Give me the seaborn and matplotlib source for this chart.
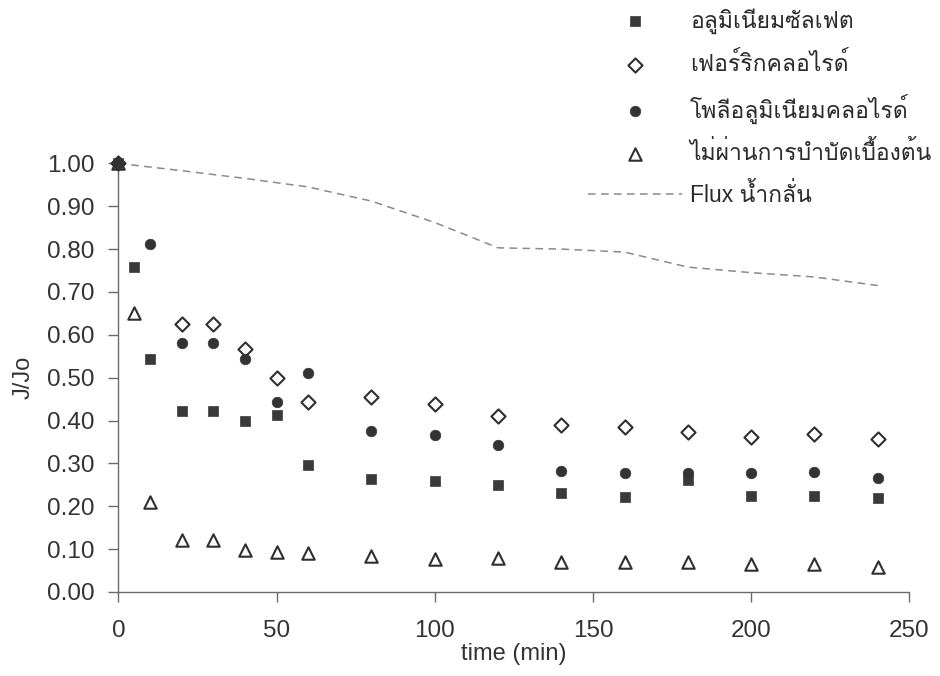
import numpy as np
import pandas as pd
import matplotlib
matplotlib.use("Agg")
import matplotlib.pyplot as plt
import seaborn as sns
from matplotlib import font_manager
from matplotlib.ft2font import FT2Font

# ---------------- data ----------------
time_alum = [0, 5, 10, 20, 30, 40, 50, 60, 80, 100, 120, 140, 160, 180, 200, 220, 240]
alum_sulfate = [1.00, 0.758, 0.543, 0.423, 0.423, 0.400, 0.413, 0.296, 0.263, 0.260,
                0.249, 0.231, 0.222, 0.261, 0.224, 0.224, 0.220]

time_ferric = [0, 20, 30, 40, 50, 60, 80, 100, 120, 140, 160, 180, 200, 220, 240]
ferric_chloride = [1.00, 0.625, 0.625, 0.568, 0.500, 0.443, 0.454, 0.439, 0.411, 0.390,
                   0.386, 0.373, 0.362, 0.368, 0.357]

time_pac = [0, 10, 20, 30, 40, 50, 60, 80, 100, 120, 140, 160, 180, 200, 220, 240]
pac = [1.00, 0.812, 0.580, 0.580, 0.543, 0.443, 0.510, 0.376, 0.366, 0.343, 0.283,
       0.277, 0.278, 0.277, 0.281, 0.267]

time_raw = [0, 5, 10, 20, 30, 40, 50, 60, 80, 100, 120, 140, 160, 180, 200, 220, 240]
untreated = [1.00, 0.650, 0.210, 0.122, 0.122, 0.097, 0.094, 0.090, 0.083, 0.078,
             0.080, 0.070, 0.070, 0.070, 0.065, 0.065, 0.058]

time_flux = [0, 20, 40, 60, 80, 100, 120, 140, 160, 180, 200, 220, 240]
flux_water = [1.00, 0.983, 0.965, 0.945, 0.912, 0.862, 0.803, 0.800, 0.793, 0.758,
              0.745, 0.735, 0.715]

labels = ["อลูมิเนียมซัลเฟต", "เฟอร์ริกคลอไรด์", "โพลีอลูมิเนียมคลอไรด์",
          "ไม่ผ่านการบำบัดเบื้องต้น", "Flux น้ำกลั่น"]
x_label = "time (min)"
y_label = "J/Jo"
x_ticks = [0, 50, 100, 150, 200, 250]
y_ticks = [0.0, 0.1, 0.2, 0.3, 0.4, 0.5, 0.6, 0.7, 0.8, 0.9, 1.0]

# ---------------- fonts ----------------
def fonts_with(ch):
    found = []
    for f in font_manager.fontManager.ttflist:
        try:
            if ord(ch) in FT2Font(f.fname).get_charmap():
                if f.name not in found:
                    found.append(f.name)
        except Exception:
            pass
    return found

thai_fonts = fonts_with("อ")
order = ["Tahoma", "Microsoft Sans Serif", "Loma", "Garuda", "Noto Sans Thai Looped",
         "Noto Looped Thai", "Noto Sans Thai", "Sarabun"]
pref = [n for n in order if n in thai_fonts]
pref += [n for n in thai_fonts if "Looped" in n and n not in pref]
pref += [n for n in thai_fonts if "Sans" in n and "Mono" not in n and n not in pref]
pref += [n for n in thai_fonts if n not in pref]
family = ["Liberation Sans"] + pref[:1] + ["DejaVu Sans"]

sns.set_theme(style="white")
plt.rcParams["font.family"] = family
plt.rcParams["text.color"] = "#333333"

ink = "#2f2f2f"
axis_col = "#6a6a6a"

fig = plt.figure(figsize=(9.4, 6.76), dpi=100)
ax = fig.add_axes([0.1259, 0.1243, 0.8415, 0.634])

sns.scatterplot(x=time_alum, y=alum_sulfate, marker="s", s=52, color="#3a3a3a",
                edgecolor="#3a3a3a", linewidth=0.5, ax=ax, label=labels[0],
                clip_on=False, zorder=4)
sns.scatterplot(x=time_ferric, y=ferric_chloride, marker="D", s=52, facecolor="white",
                edgecolor=ink, linewidth=1.5, ax=ax, label=labels[1],
                clip_on=False, zorder=3)
sns.scatterplot(x=time_pac, y=pac, marker="o", s=58, color="#333333",
                edgecolor="#333333", linewidth=0.5, ax=ax, label=labels[2],
                clip_on=False, zorder=5)
sns.scatterplot(x=time_raw, y=untreated, marker="^", s=80, facecolor="white",
                edgecolor=ink, linewidth=1.5, ax=ax, label=labels[3],
                clip_on=False, zorder=3)
sns.lineplot(x=time_flux, y=flux_water, color="#8a8a8a", linewidth=1.1,
             dashes=False, ax=ax, label=labels[4], zorder=2)
ax.lines[-1].set_dashes((5, 3.5))

ax.set_xlim(0, 250)
ax.set_ylim(0, 1.0)
ax.set_xticks(x_ticks)
ax.set_yticks(y_ticks)
ax.set_yticklabels([f"{v:.2f}" for v in y_ticks])
ax.set_xticklabels([str(v) for v in x_ticks])

for side in ["top", "right"]:
    ax.spines[side].set_visible(False)
for side in ["left", "bottom"]:
    ax.spines[side].set_color(axis_col)
    ax.spines[side].set_linewidth(1.0)

ax.tick_params(axis="both", direction="out", length=7, width=1.0, color=axis_col,
               labelsize=17.5, labelcolor="#333333")
ax.tick_params(axis="y", pad=10, left=True)
ax.tick_params(axis="x", pad=13, bottom=True)

ax.set_xlabel(x_label, fontsize=17, color="#333333", labelpad=1)
ax.set_ylabel(y_label, fontsize=17, color="#333333", labelpad=9)

handles, labs = ax.get_legend_handles_labels()
if ax.get_legend() is not None:
    ax.get_legend().remove()
leg = ax.legend(handles, labs, loc="upper left", bbox_to_anchor=(588 / 940, 1 - 8 / 676),
                bbox_transform=fig.transFigure, frameon=False, fontsize=16.5,
                handlelength=4.1, handletextpad=0.35, labelspacing=0.78,
                borderpad=0, borderaxespad=0)
for t in leg.get_texts():
    t.set_color("#2a2a2a")

fig.savefig("out.png", dpi=100, facecolor="white")
